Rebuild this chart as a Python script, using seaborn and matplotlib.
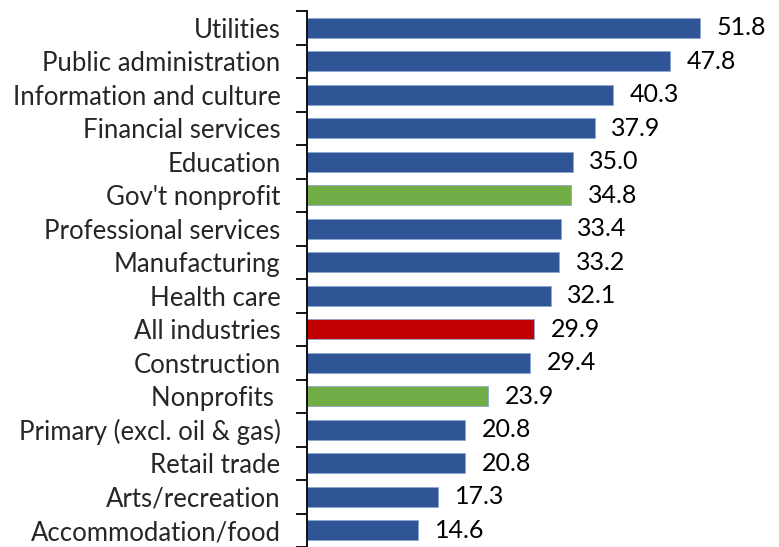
import matplotlib
matplotlib.use("Agg")
import matplotlib.pyplot as plt
import seaborn as sns
import pandas as pd
import numpy as np

industries = [
    "Utilities", "Public administration", "Information and culture",
    "Financial services", "Education", "Gov't nonprofit",
    "Professional services", "Manufacturing", "Health care",
    "All industries", "Construction", "Nonprofits ",
    "Primary (excl. oil & gas)", "Retail trade", "Arts/recreation",
    "Accommodation/food",
]
values = [51.8, 47.8, 40.3, 37.9, 35.0, 34.8, 33.4, 33.2, 32.1,
          29.9, 29.4, 23.9, 20.8, 20.8, 17.3, 14.6]
groups = ["industry"] * 5 + ["nonprofit"] + ["industry"] * 3 + ["total"] + \
         ["industry"] + ["nonprofit"] + ["industry"] * 4

colors = {"industry": "#2F5597", "nonprofit": "#70AD47", "total": "#C00000"}

df = pd.DataFrame({"industry": industries, "value": values, "group": groups})

sns.set_style("white")
plt.rcParams["font.family"] = ["Lato", "DejaVu Sans"]

fig = plt.figure(figsize=(7.79, 5.47), dpi=100)
ax = fig.add_axes([307 / 779, 0.0, 1 - 307 / 779, 536 / 547])

sns.barplot(data=df, y="industry", x="value", hue="group", palette=colors,
            orient="h", dodge=False, width=0.6, legend=False, ax=ax,
            saturation=1, edgecolor="#8EA6CF", linewidth=0.6)

for cont in ax.containers:
    ax.bar_label(cont, labels=[f"{v:.1f}" for v in cont.datavalues],
                 padding=12, fontsize=18, color="black")

n = len(industries)
ax.set_xlim(0, (779 - 307) / 7.59)
ax.set_ylim(n - 0.5, -0.5)
ax.set_xlabel("")
ax.set_ylabel("")
ax.set_xticks([])

ax.set_yticks(np.arange(n))
ax.set_yticklabels(industries, fontsize=18.5)
ax.set_yticks(np.arange(n + 1) - 0.5, minor=True)
ax.tick_params(axis="y", which="major", length=0, pad=19)
ax.tick_params(axis="y", which="minor", length=8, width=1.3, color="black",
               direction="out", left=True)

for side in ["top", "right", "bottom"]:
    ax.spines[side].set_visible(False)
ax.spines["left"].set_color("black")
ax.spines["left"].set_linewidth(1.3)

fig.savefig("out.png", dpi=100)
